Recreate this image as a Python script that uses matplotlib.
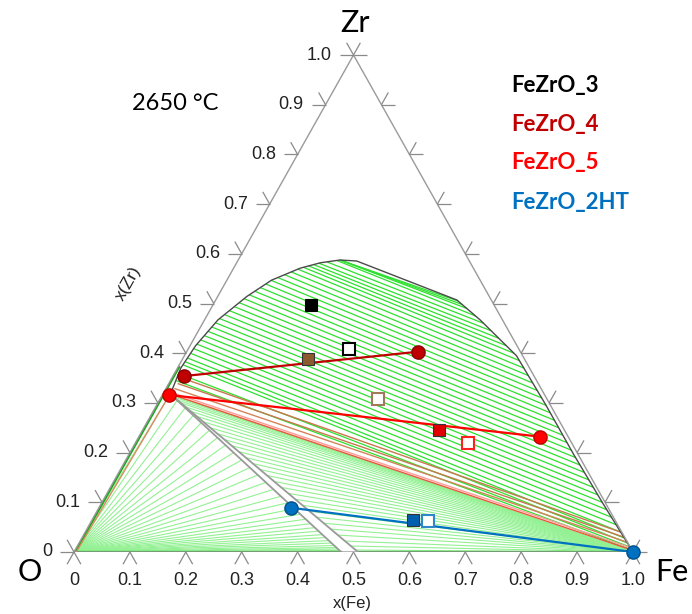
import numpy as np
import matplotlib.pyplot as plt
from matplotlib.collections import LineCollection

# all compositions are (x(Fe), x(Zr)); x(O) = 1 - x(Fe) - x(Zr)

# liquid miscibility gap: oxide-rich branch, bottom -> top
gap_left_fe = [0.013, 0.006, 0.010, 0.024, 0.052, 0.080, 0.119, 0.150, 0.182]
gap_left_zr = [0.322, 0.370, 0.415, 0.467, 0.514, 0.547, 0.571, 0.582, 0.5875]
# metal-rich branch, top -> Fe corner
gap_right_fe = [0.182, 0.213, 0.4315, 0.493, 0.594, 0.695, 0.795, 0.897, 1.0]
gap_right_zr = [0.5875, 0.5855, 0.507, 0.467, 0.395, 0.297, 0.197, 0.098, 0.0]

# calculated tie-lines in the gap: x(Zr) at the oxide end / metal end
tie_ox_zr = [0.5875, 0.5875, 0.5875, 0.5866, 0.5838, 0.5811, 0.5783, 0.5756, 0.5728,
             0.5691, 0.5635, 0.5579, 0.5522, 0.5465, 0.5392, 0.5320, 0.5247, 0.5174,
             0.5097, 0.5017, 0.4937, 0.4857, 0.4777, 0.4697, 0.4613, 0.4527, 0.4440,
             0.4354, 0.4268, 0.4182, 0.4092, 0.3998, 0.3904, 0.3829, 0.3766, 0.359,
             0.345]
tie_met_zr = [0.505, 0.498, 0.490, 0.475, 0.46, 0.445, 0.43, 0.415, 0.40,
              0.385, 0.37, 0.355, 0.34, 0.325, 0.31, 0.295, 0.28, 0.265,
              0.25, 0.235, 0.22, 0.205, 0.19, 0.175, 0.16, 0.145, 0.13,
              0.115, 0.10, 0.085, 0.07, 0.055, 0.04, 0.028, 0.018, 0.010,
              0.004]

# three-phase corner of the gap and the narrow oxide-liquid wedge
wedge_apex = (0.013, 0.318)
wedge_foot_fe = [0.478, 0.508]
edge_phase_zr = 0.372

# boundary tie-lines near the three-phase triangle
tp_ox_fe = [0.018, 0.016, 0.015, 0.014, 0.013]
tp_ox_zr = [0.350, 0.339, 0.329, 0.321, 0.318]
tp_met_zr = [0.040, 0.030, 0.020, 0.009, 0.004]

# tie-line fans: x(Zr) where each line meets the wedge
o_fan_zr = [0.318, 0.305, 0.29, 0.275, 0.26, 0.245, 0.23, 0.215, 0.20, 0.185, 0.17,
            0.155, 0.14, 0.126, 0.112, 0.099, 0.087, 0.076, 0.066, 0.057, 0.049,
            0.042, 0.035, 0.029, 0.023, 0.018, 0.013, 0.009, 0.006, 0.003]
fe_fan_zr = [0.316, 0.312, 0.306, 0.30, 0.292, 0.283, 0.273, 0.262, 0.25, 0.238,
             0.226, 0.214, 0.202, 0.19, 0.178, 0.166, 0.154, 0.142, 0.13, 0.118,
             0.106, 0.094, 0.082, 0.07, 0.058, 0.046, 0.034, 0.022, 0.012, 0.004]

# experimental tie-lines (oxide end, metal end)
exp_names = ['FeZrO_3', 'FeZrO_4', 'FeZrO_5', 'FeZrO_2HT']
tl4_fe, tl4_zr = [0.020, 0.414], [0.354, 0.403]
tl5_fe, tl5_zr = [0.012, 0.718], [0.316, 0.232]
tl2_fe, tl2_zr = [0.344, 1.0], [0.089, 0.0]

# experimental overall compositions: filled / open squares
sq3_fe, sq3_zr = [0.176, 0.288], [0.496, 0.408]
sq4_fe, sq4_zr = [0.224, 0.390], [0.389, 0.308]
sq5_fe, sq5_zr = [0.530, 0.594], [0.245, 0.220]
sq2_fe, sq2_zr = [0.575, 0.601], [0.064, 0.063]

ticks = [0.0, 0.1, 0.2, 0.3, 0.4, 0.5, 0.6, 0.7, 0.8, 0.9, 1.0]
tick_labels = ['0', '0.1', '0.2', '0.3', '0.4', '0.5', '0.6', '0.7', '0.8', '0.9', '1.0']


def tern(fe, zr):
    fe = np.asarray(fe, dtype=float)
    zr = np.asarray(zr, dtype=float)
    return fe + 0.5 * zr, zr


def left_fe(z):
    return np.interp(z, gap_left_zr, gap_left_fe)


def right_fe(z):
    return np.interp(z, gap_right_zr[::-1], gap_right_fe[::-1])


def segs(fe0, zr0, fe1, zr1):
    x0, y0 = tern(fe0, zr0)
    x1, y1 = tern(fe1, zr1)
    return [[(a, b), (c, d)] for a, b, c, d in zip(x0, y0, x1, y1)]


fig = plt.figure(figsize=(6.92, 6.14), dpi=100)
ax = fig.add_axes([74 / 692, 62 / 614, 559 / 692, 497 / 614])
ax.set_xlim(0, 1)
ax.set_ylim(0, 1)
ax.set_axis_off()

green = '#2ee02e'
light_green = '#93f193'

# gap tie-lines
ox_z = np.array(tie_ox_zr)
met_z = np.array(tie_met_zr)
ax.add_collection(LineCollection(segs(left_fe(ox_z), ox_z, right_fe(met_z), met_z),
                                 colors=green, linewidths=0.9, zorder=2))

# fan from O corner to the oxide wedge line
az_fe, az_zr = wedge_apex
oz = np.array(o_fan_zr)
o_end_fe = wedge_foot_fe[0] + (az_fe - wedge_foot_fe[0]) * oz / az_zr
ax.add_collection(LineCollection(segs(np.zeros_like(oz), np.zeros_like(oz), o_end_fe, oz),
                                 colors=light_green, linewidths=0.8, zorder=1))

# fan from Fe corner to the other wedge line
fz = np.array(fe_fan_zr)
f_end_fe = wedge_foot_fe[1] + (az_fe - wedge_foot_fe[1]) * fz / az_zr
ax.add_collection(LineCollection(segs(np.ones_like(fz), np.zeros_like(fz), f_end_fe, fz),
                                 colors=light_green, linewidths=0.8, zorder=1))

# edge lines
x, y = tern([0.002, 0.002], [0.0, edge_phase_zr])
ax.plot(x, y, color='#1aa81a', lw=1.6, zorder=3)
x, y = tern([0.0, wedge_foot_fe[0]], [0.0, 0.0])
ax.plot(x, y, color='#1aa81a', lw=1.6, zorder=3)
x, y = tern([wedge_foot_fe[1], 1.0], [0.0, 0.0])
ax.plot(x, y, color='#1aa81a', lw=1.6, zorder=3)
x, y = tern([0.004, az_fe], [0.0, az_zr])
ax.plot(x, y, color='#d98a5e', lw=1.0, zorder=3)

# three-phase boundary lines
tp_colors = ['#c8784e', '#c8784e', '#d4825a', '#ff9a9a', '#e8573a']
tz = np.array(tp_met_zr)
ax.add_collection(LineCollection(segs(tp_ox_fe, tp_ox_zr, right_fe(tz), tz),
                                 colors=tp_colors, linewidths=1.0, zorder=3))

# wedge lines
for foot in wedge_foot_fe:
    x, y = tern([az_fe, foot], [az_zr, 0.0])
    ax.plot(x, y, color='#9a9a9a', lw=1.3, zorder=4)

# gap boundary
x, y = tern(gap_left_fe + gap_right_fe, gap_left_zr + gap_right_zr)
ax.plot(x, y, color='#4a4a4a', lw=1.0, zorder=4)

# triangle frame
x, y = tern([0, 1, 0, 0], [0, 0, 1, 0])
ax.plot(x, y, color='#9a9a9a', lw=1.0, zorder=4)

# ticks
tl = 0.025
dx, dy = 0.0123, 0.0246
tick_segs = []
for t in ticks:
    tick_segs += [[(t, 0), (t - dx, -dy)], [(t, 0), (t + dx, -dy)]]
    tick_segs += [[(t / 2, t), (t / 2 - tl, t)], [(t / 2, t), (t / 2 - dx, t + dy)]]
    tick_segs += [[(1 - t / 2, t), (1 - t / 2 + tl, t)], [(1 - t / 2, t), (1 - t / 2 + dx, t + dy)]]
ax.add_collection(LineCollection(tick_segs, colors='#8a8a8a', linewidths=0.9,
                                 zorder=4, clip_on=False))

tick_font = dict(family='Liberation Sans', fontsize=13, color='#222222')
for t, lab in zip(ticks, tick_labels):
    ax.text(t, -0.057, lab, ha='center', va='center', **tick_font)
    ax.text(t / 2 - 0.039, t, lab, ha='right', va='center', **tick_font)

ax.text(0.4973, -0.103, 'x(Fe)', ha='center', va='center',
        family='Liberation Sans', fontsize=12, color='#222222')
ax.text(0.0966, 0.541, 'x(Zr)', ha='center', va='center', rotation=60.6,
        family='Liberation Sans', fontsize=12.5, color='#222222')

corner_font = dict(family='Lato', fontsize=22, color='black')
ax.text(-0.079, -0.040, 'O', ha='center', va='center', **corner_font)
ax.text(1.070, -0.040, 'Fe', ha='center', va='center', **corner_font)
ax.text(0.5027, 1.064, 'Zr', ha='center', va='center', **corner_font)
ax.text(0.1807, 0.9034, '2650 °C', ha='center', va='center',
        family='Lato', fontsize=17, color='black')

# experimental tie-lines
ax.plot(*tern(tl4_fe, tl4_zr), color='#c00000', lw=1.6, zorder=5)
ax.plot(*tern(tl5_fe, tl5_zr), color='#ff0000', lw=1.6, zorder=5)
ax.plot(*tern(tl2_fe, tl2_zr), color='#0070c0', lw=1.6, zorder=5)
ax.plot(*tern(tl4_fe, tl4_zr), 'o', ms=9.5, mfc='#c00000', mec='#8a0000', mew=1,
        zorder=6, clip_on=False)
ax.plot(*tern(tl5_fe, tl5_zr), 'o', ms=9.5, mfc='#ff0000', mec='#c00000', mew=1,
        zorder=6, clip_on=False)
ax.plot(*tern(tl2_fe, tl2_zr), 'o', ms=9.5, mfc='#0070c0', mec='#00508a', mew=1,
        zorder=6, clip_on=False)

# squares: first = filled, second = open
sq_style = [('#000000', '#000000'), ('#8c5a2e', '#a07a5a'),
            ('#e00000', '#ff2020'), ('#0060b0', '#2f86c8')]
for (fe, zr), (cfill, copen) in zip([(sq3_fe, sq3_zr), (sq4_fe, sq4_zr),
                                    (sq5_fe, sq5_zr), (sq2_fe, sq2_zr)], sq_style):
    x, y = tern(fe, zr)
    ax.plot(x[0], y[0], 's', ms=8, mfc=cfill, mec='#333333' if cfill != '#000000' else cfill,
            mew=0.8, zorder=6)
    ax.plot(x[1], y[1], 's', ms=8, mfc='white', mec=copen, mew=1.5, zorder=6)

# legend text
leg_colors = ['#000000', '#c00000', '#ff0000', '#0070c0']
leg_y = [0.9396, 0.8592, 0.7827, 0.7042]
for name, c, yy in zip(exp_names, leg_colors, leg_y):
    ax.text(0.7818, yy, name, ha='left', va='center', color=c,
            family='Lato', fontweight='bold', fontsize=16)

fig.savefig('out.png', dpi=100)
